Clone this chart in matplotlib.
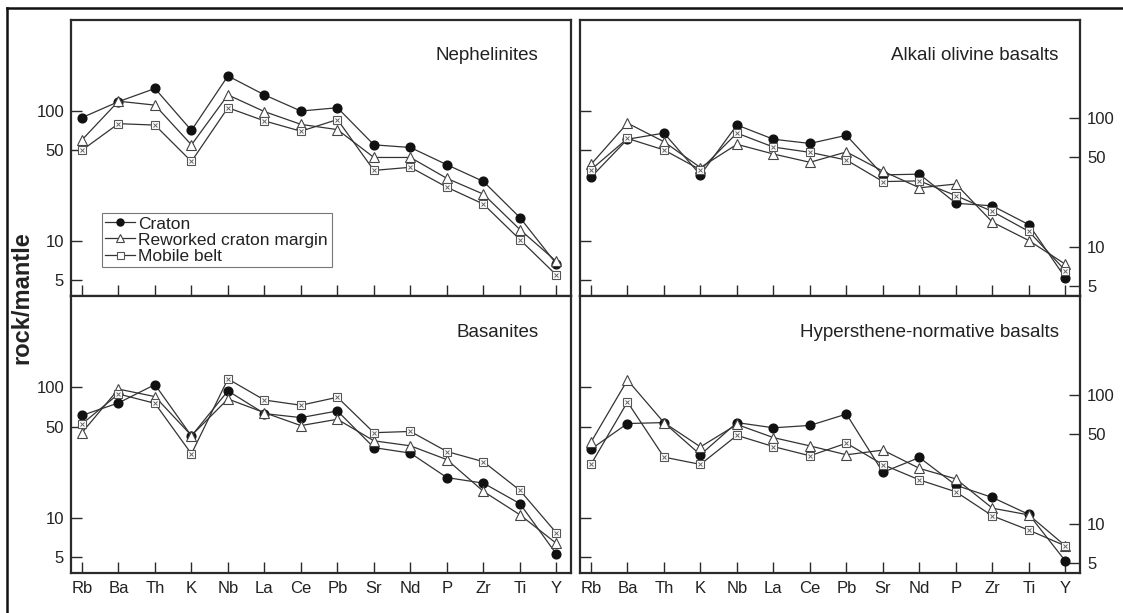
import matplotlib

matplotlib.use("Agg")
import matplotlib.pyplot as plt
from matplotlib.lines import Line2D

plt.rcParams["font.family"] = ["Liberation Sans", "DejaVu Sans"]

elements = ["Rb", "Ba", "Th", "K", "Nb", "La", "Ce", "Pb", "Sr", "Nd", "P", "Zr", "Ti", "Y"]

# rock/mantle values
neph_craton = [89, 118, 149, 71, 186, 133, 100, 106, 55, 52.5, 38.7, 28.8, 15.2, 6.7]
neph_reworked = [60, 119, 111, 55, 133, 99, 79, 72, 44, 44, 30.4, 23, 12.3, 7.0]
neph_mobile = [50, 80, 78, 41, 106, 84, 70, 86, 35, 37, 26, 19.3, 10.3, 5.5]

aob_craton = [35, 69, 77, 36.5, 89, 69, 64, 74, 36.5, 37, 22, 21, 15, 5.8]
aob_reworked = [44, 92, 66, 41.6, 63, 53, 45.7, 55, 39, 29, 31, 15.7, 11.3, 7.4]
aob_mobile = [40, 70, 57, 40, 77, 60, 54.6, 47.6, 32.4, 32.8, 25.2, 19, 13.3, 6.6]

bas_craton = [61, 76, 105, 42.5, 94, 63, 58.7, 66, 34.6, 31.4, 20.4, 18.5, 12.9, 5.3]
bas_reworked = [45, 97, 85, 42.8, 81.5, 64, 51, 57, 39, 35.7, 28, 16, 10.6, 6.4]
bas_mobile = [52.5, 89, 75.5, 31, 116, 80, 73, 84, 45, 46, 32.3, 27, 16.3, 7.7]

hyp_craton = [38, 60, 61, 34.4, 61, 55.6, 58, 71, 25.2, 32.8, 20, 16.1, 11.9, 5.2]
hyp_reworked = [43, 130, 61, 39.6, 59, 46.7, 40.3, 34.4, 37.4, 27, 22.4, 13.3, 11.8, 6.8]
hyp_mobile = [29, 88, 33, 29, 48.6, 39.8, 33.8, 42.3, 28.9, 22, 17.8, 11.6, 9.0, 6.8]

panels = [
    ("Nephelinites", neph_craton, neph_reworked, neph_mobile),
    ("Alkali olivine basalts", aob_craton, aob_reworked, aob_mobile),
    ("Basanites", bas_craton, bas_reworked, bas_mobile),
    ("Hypersthene-normative basalts", hyp_craton, hyp_reworked, hyp_mobile),
]

W, H = 1123, 613
fig = plt.figure(figsize=(W / 100, H / 100), dpi=100)

# panel boxes in pixel coords (left, top, right, bottom)
boxes = [(71, 20, 571, 296), (580, 20, 1080, 296), (71, 296, 571, 573), (580, 296, 1080, 573)]

line_c = "#333333"
text_c = "#222222"
ylim_left = (3.8, 500)
ylim_right = (4.2, 580)
yticks = [5, 10, 50, 100]
x = list(range(len(elements)))


def style_axis(ax):
    for sp in ax.spines.values():
        sp.set_linewidth(1.6)
        sp.set_color("#2a2a2a")
    ax.tick_params(direction="in", length=8, width=1, colors="#2a2a2a",
                   labelcolor=text_c, labelsize=12)


def draw_series(ax, craton, reworked, mobile):
    ax.plot(x, craton, color=line_c, lw=0.9, marker="o", ms=6.3,
            mfc="#111111", mec="#111111", label="Craton", zorder=3)
    ax.plot(x, reworked, color=line_c, lw=0.9, marker="^", ms=6.8,
            mfc="white", mec="#444444", mew=0.8, label="Reworked craton margin", zorder=3)
    ax.plot(x, mobile, color=line_c, lw=0.9, marker="s", ms=6.3,
            mfc="white", mec="#555555", mew=0.8, label="Mobile belt", zorder=3)
    ax.plot(x, mobile, ls="none", marker="x", ms=3.5, mec="#666666", mew=0.7, zorder=4)


for i, (title, craton, reworked, mobile) in enumerate(panels):
    l, t, r, b = boxes[i]
    ax = fig.add_axes([l / W, 1 - b / H, (r - l) / W, (b - t) / H])
    right = i % 2 == 1
    bottom = i >= 2
    axl = None
    if right:
        # inner ticks on the left spine follow the left-hand scale
        axl = ax.twinx()
    ax.set_yscale("log")
    ax.set_xlim(-0.3, 13.4)
    ax.set_ylim(*(ylim_right if right else ylim_left))
    draw_series(ax, craton, reworked, mobile)
    ax.set_xticks(x)
    ax.set_xticklabels(elements if bottom else [])
    ax.set_yticks(yticks)
    ax.set_yticklabels([str(v) for v in yticks])
    ax.minorticks_off()
    style_axis(ax)
    ax.tick_params(axis="x", pad=6, top=False)
    if right:
        ax.yaxis.set_ticks_position("right")
        ax.yaxis.set_label_position("right")
        ax.tick_params(axis="y", direction="in", pad=5, left=False, right=True,
                       labelleft=False, labelright=True)
        axl.set_yscale("log")
        axl.set_ylim(*ylim_left)
        axl.set_yticks(yticks)
        axl.minorticks_off()
        axl.yaxis.set_ticks_position("left")
        axl.tick_params(axis="y", direction="in", length=8, width=1, colors="#2a2a2a",
                        labelleft=False, labelright=False)
        for sp in axl.spines.values():
            sp.set_visible(False)
        tx = 0.957
    else:
        ax.tick_params(axis="y", pad=5, right=False)
        tx = 0.935
    ax.text(tx, 0.87, title, transform=ax.transAxes, ha="right", va="center",
            fontsize=13.5, color=text_c)
    if i == 0:
        leg = ax.legend(loc="upper left", bbox_to_anchor=(0.062, 0.301), borderaxespad=0,
                        fontsize=12.5, handlelength=1.7, handletextpad=0.2,
                        labelspacing=0.05, borderpad=0.2, fancybox=False, framealpha=1,
                        markerscale=0.8)
        leg.get_frame().set_edgecolor("#777777")
        leg.get_frame().set_linewidth(0.8)
        for txt in leg.get_texts():
            txt.set_color(text_c)

fig.text(22 / W, 1 - 298 / H, "rock/mantle", rotation=90, ha="center", va="center",
         fontsize=17, fontweight="bold", color=text_c)

# outer frame of the scanned figure (top and left edges)
fig.add_artist(Line2D([7 / W, 1], [1 - 8 / H, 1 - 8 / H], color="#111111", lw=1.8))
fig.add_artist(Line2D([7 / W, 7 / W], [0, 1 - 8 / H], color="#111111", lw=1.8))

fig.savefig("out.png", dpi=100)
